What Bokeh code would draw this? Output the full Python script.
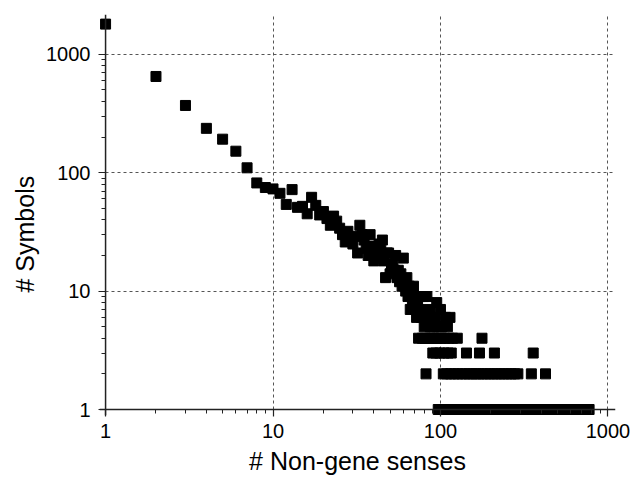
from bokeh.plotting import figure
from bokeh.models import Range1d, FixedTicker, ColumnDataSource, Span, Title
from bokeh.embed import file_html
from bokeh.resources import INLINE

# ---- data: number of symbols with a given number of non-gene senses ----
head_senses = list(range(1, 96))
head_symbols = [1800, 650, 370, 237, 192, 152, 110, 82, 75, 73,
                67, 54, 72, 51, 52, 45, 62, 53, 44, 47,
                41, 36, 43, 39, 34, 30, 26, 32, 28, 25,
                29, 21, 36, 30, 27, 23, 20, 30, 24, 18,
                22, 19, 25, 22, 27, 18, 13, 21, 21, 14,
                16, 17, 15, 20, 13, 15, 12, 14, 11, 19,
                12, 10, 13, 9, 11, 7, 10, 8, 11, 9,
                7, 6, 8, 4, 7, 9, 6, 4, 9, 5,
                4, 2, 9, 6, 4, 7, 5, 6, 4, 3,
                5, 4, 6, 3, 8]

tail_y1 = [97, 103, 108, 113, 119, 124, 130, 137, 144, 150, 158, 166, 174, 183,
           192, 201, 211, 222, 233, 245, 257, 270, 284, 298, 313, 329, 345, 362,
           380, 399, 419, 440, 462, 485, 509, 535, 562, 590, 620, 651, 684, 718,
           754, 772]
tail_y2 = [104, 109, 115, 121, 127, 134, 141, 148, 155, 163, 170, 179, 188, 197,
           207, 217, 228, 239, 251, 264, 277, 290, 349, 424]
tail_y3 = [99, 105, 111, 116, 143, 171, 210, 358]
tail_y4 = [96, 101, 106, 112, 118, 126, 177]
tail_y5 = [98, 102, 110]
tail_y6 = [107, 114]
tail_y7 = [100]

major_ticks = [1, 10, 100, 1000]
tick_labels = ["1", "10", "100", "1000"]
mantissas = [2, 3, 4, 5, 6, 7, 8, 9]
x_title = "# Non-gene senses"
y_title = "# Symbols"

xs = list(head_senses)
ys = list(head_symbols)
for level, lst in [(1, tail_y1), (2, tail_y2), (3, tail_y3), (4, tail_y4),
                   (5, tail_y5), (6, tail_y6), (7, tail_y7)]:
    xs += lst
    ys += [level] * len(lst)

src = ColumnDataSource(dict(x=xs, y=ys))

# ranges start a little below 1 so the markers sitting on the axes are not clipped
p = figure(x_axis_type="log", y_axis_type="log",
           x_range=Range1d(0.92, 1110), y_range=Range1d(0.89, 2170),
           frame_width=516, frame_height=401,
           min_border_left=99, min_border_right=18,
           min_border_top=14, min_border_bottom=64,
           output_backend="svg", toolbar_location=None)
p.outline_line_color = None
p.background_fill_color = "white"

minor = [m * t for t in major_ticks[:-1] for m in mantissas]
ticker = FixedTicker(ticks=major_ticks, minor_ticks=minor)

for g in (p.xgrid[0], p.ygrid[0]):
    g.ticker = FixedTicker(ticks=major_ticks[1:])
    g.grid_line_color = "#555555"
    g.grid_line_dash = "3 3"
    g.grid_line_width = 1

p.scatter("x", "y", source=src, marker="square", size=10,
          fill_color="black", line_color="black")

# axis lines at value 1
p.add_layout(Span(location=1, dimension="width", line_color="#222222", line_width=1.5))
p.add_layout(Span(location=1, dimension="height", line_color="#222222", line_width=1.5))

for ax in (p.xaxis[0], p.yaxis[0]):
    ax.ticker = ticker
    ax.major_label_overrides = {t: l for t, l in zip(major_ticks, tick_labels)}
    ax.axis_line_color = None
    ax.major_tick_line_color = "#222222"
    ax.minor_tick_line_color = "#222222"
    ax.major_tick_line_width = 1.2
    ax.major_tick_in = 6
    ax.major_tick_out = 1
    ax.minor_tick_in = 6
    ax.minor_tick_out = -2
    ax.major_label_text_font = "Liberation Sans"
    ax.major_label_text_font_size = "20px"
    ax.major_label_text_color = "black"
    ax.axis_label_text_font = "Liberation Sans"
    ax.axis_label_text_font_size = "25px"
    ax.axis_label_text_font_style = "normal"
    ax.axis_label_text_color = "black"

p.xaxis.axis_label = x_title
p.xaxis.major_label_standoff = 7
p.yaxis.major_label_standoff = 8
p.xaxis.axis_label_standoff = 6

# y title as a side title, starting from the bottom with an offset
p.add_layout(Title(text=y_title, align="left", offset=123, standoff=9,
                   text_font="Liberation Sans", text_font_size="25px",
                   text_font_style="normal", text_color="black"), "left")

open("out.html", "w").write(file_html(p, INLINE))
